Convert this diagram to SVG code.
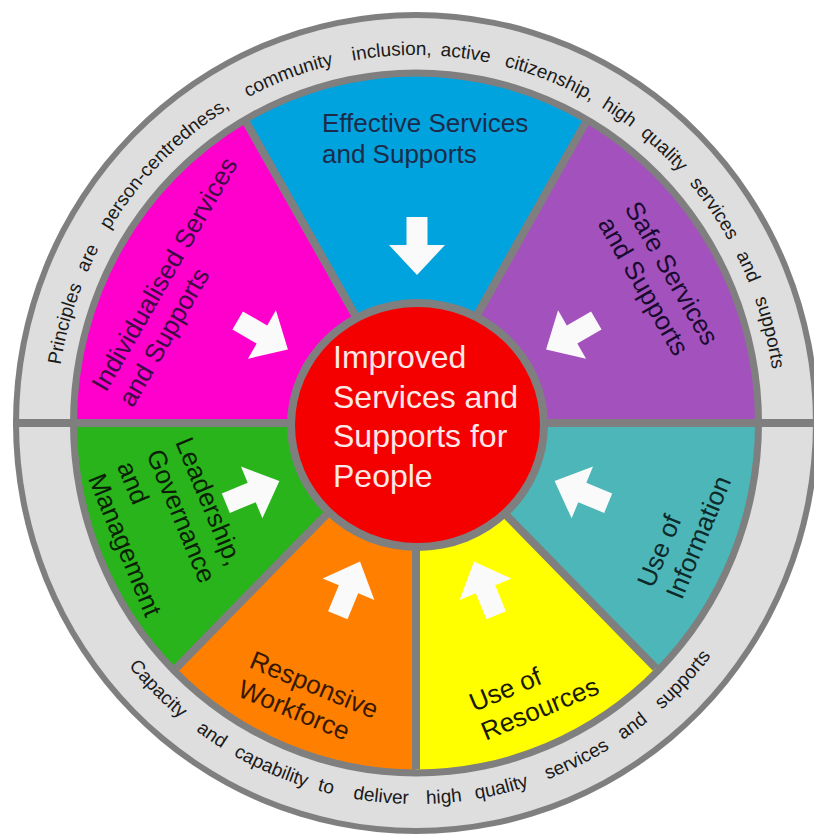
<svg xmlns="http://www.w3.org/2000/svg" xmlns:xlink="http://www.w3.org/1999/xlink" width="814" height="838" viewBox="0 0 814 838">
<style>
.lbl{font-family:"Liberation Sans",Arial,sans-serif;font-size:26px}
.ring{font-family:"Liberation Sans",Arial,sans-serif;font-size:19px;fill:#1a1a1a}
.div{stroke:#7f7f7f;stroke-width:8;fill:none}
.arr{fill:#fafafa}
</style>
<defs>
<path id="arr" d="M-10.5,-29 H10.5 V-1 H28 L0,29 L-28,-1 H-10.5 Z"/>
<path id="topArc" d="M56,423 A360,368 0 0 1 776,423"/>
<path id="botArc" d="M43,423 A373,381 0 0 0 789,423"/>
</defs>
<rect width="814" height="838" fill="#ffffff"/>
<g id="rings">
<ellipse cx="416" cy="423" rx="403" ry="411" fill="#7f7f7f"/>
<ellipse cx="416" cy="423" rx="397" ry="405" fill="#dedede"/>
<ellipse cx="416" cy="423" rx="346" ry="353.5" fill="#7f7f7f"/>
</g>
<g id="ring-text-top" class="ring">
<text><textPath href="#topArc" startOffset="8.7%" text-anchor="middle">Principles</textPath></text>
<text><textPath href="#topArc" startOffset="14.7%" text-anchor="middle">are</textPath></text>
<text><textPath href="#topArc" startOffset="25.3%" text-anchor="middle">person-centredness,</textPath></text>
<text><textPath href="#topArc" startOffset="38.7%" text-anchor="middle">community</textPath></text>
<text><textPath href="#topArc" startOffset="47.9%" text-anchor="middle">inclusion,</textPath></text>
<text><textPath href="#topArc" startOffset="54.3%" text-anchor="middle">active</textPath></text>
<text><textPath href="#topArc" startOffset="61.9%" text-anchor="middle">citizenship,</textPath></text>
<text><textPath href="#topArc" startOffset="68.6%" text-anchor="middle">high</textPath></text>
<text><textPath href="#topArc" startOffset="73.6%" text-anchor="middle">quality</textPath></text>
<text><textPath href="#topArc" startOffset="80.3%" text-anchor="middle">services</textPath></text>
<text><textPath href="#topArc" startOffset="86.1%" text-anchor="middle">and</textPath></text>
<text><textPath href="#topArc" startOffset="92.1%" text-anchor="middle">supports</textPath></text>
</g>
<g id="ring-text-bottom" class="ring">
<text><textPath href="#botArc" startOffset="25.3%" text-anchor="middle">Capacity</textPath></text>
<text><textPath href="#botArc" startOffset="31.4%" text-anchor="middle">and</textPath></text>
<text><textPath href="#botArc" startOffset="37.2%" text-anchor="middle">capability</textPath></text>
<text><textPath href="#botArc" startOffset="42.2%" text-anchor="middle">to</textPath></text>
<text><textPath href="#botArc" startOffset="47.0%" text-anchor="middle">deliver</textPath></text>
<text><textPath href="#botArc" startOffset="52.4%" text-anchor="middle">high</textPath></text>
<text><textPath href="#botArc" startOffset="57.4%" text-anchor="middle">quality</textPath></text>
<text><textPath href="#botArc" startOffset="64.3%" text-anchor="middle">services</textPath></text>
<text><textPath href="#botArc" startOffset="69.9%" text-anchor="middle">and</textPath></text>
<text><textPath href="#botArc" startOffset="75.8%" text-anchor="middle">supports</textPath></text>
</g>
<g id="individualised">
<path d="M416,423 L77,423 A339,346.5 0 0 1 246.5,122.9 Z" fill="#ff00cc"/>
<text class="lbl" fill="#3d0a45" transform="translate(106,393) rotate(-60)"><tspan x="0" y="0">Individualised Services</tspan><tspan x="0" dy="31">and Supports</tspan></text>
</g>
<g id="effective">
<path d="M416,423 L246.5,122.9 A339,346.5 0 0 1 585.5,122.9 Z" fill="#00a3dd"/>
<text class="lbl" fill="#1c2b4a"><tspan x="322" y="132">Effective Services</tspan><tspan x="322" y="163">and Supports</tspan></text>
</g>
<g id="safe">
<path d="M416,423 L585.5,122.9 A339,346.5 0 0 1 755,423 Z" fill="#a352bd"/>
<text class="lbl" fill="#1a0a30" transform="translate(624,208) rotate(60)"><tspan x="0" y="0">Safe Services</tspan><tspan x="0" dy="31">and Supports</tspan></text>
</g>
<g id="leadership">
<path d="M416,423 L77,423 A339,346.5 0 0 0 176.3,668 Z" fill="#28b41a"/>
<text class="lbl" fill="#0a1f05" transform="translate(175,442) rotate(67.5)"><tspan x="0" y="0">Leadership,</tspan><tspan x="0" dy="31.5">Governance</tspan><tspan x="0" dy="31.5">and</tspan><tspan x="0" dy="31.5">Management</tspan></text>
</g>
<g id="workforce">
<path d="M416,423 L176.3,668 A339,346.5 0 0 0 416,769.5 Z" fill="#ff8000"/>
<text class="lbl" fill="#3a1800" transform="translate(248,667) rotate(22.5)"><tspan x="0" y="0">Responsive</tspan><tspan x="0" dy="31">Workforce</tspan></text>
</g>
<g id="resources">
<path d="M416,423 L416,769.5 A339,346.5 0 0 0 655.7,668 Z" fill="#ffff00"/>
<text class="lbl" fill="#1a1a00" transform="translate(474,712) rotate(-22.5)"><tspan x="0" y="0">Use of</tspan><tspan x="0" dy="31">Resources</tspan></text>
</g>
<g id="information">
<path d="M416,423 L655.7,668 A339,346.5 0 0 0 755,423 Z" fill="#4db6b8"/>
<text class="lbl" fill="#0d2a2a" transform="translate(653,589) rotate(-67.5)"><tspan x="0" y="0">Use of</tspan><tspan x="0" dy="31">Information</tspan></text>
</g>
<g id="dividers" class="div">
<line x1="13" y1="423" x2="819" y2="423"/>
<line x1="416" y1="423" x2="246.5" y2="122.9"/>
<line x1="416" y1="423" x2="585.5" y2="122.9"/>
<line x1="416" y1="423" x2="176.3" y2="668"/>
<line x1="416" y1="423" x2="416" y2="769.5"/>
<line x1="416" y1="423" x2="655.7" y2="668"/>
</g>
<g id="improved">
<ellipse cx="417.5" cy="425" rx="130.5" ry="126" fill="#7f7f7f"/>
<ellipse cx="417.5" cy="425" rx="122.5" ry="118" fill="#f50000"/>
<text font-family="Liberation Sans, Arial, sans-serif" font-size="32" fill="#fde8e8"><tspan x="333" y="368">Improved</tspan><tspan x="333" y="408">Services and</tspan><tspan x="333" y="447">Supports for</tspan><tspan x="333" y="487">People</tspan></text>
</g>
<g id="connectors" class="arr">
<use href="#arr" transform="translate(417,246)"/>
<use href="#arr" transform="translate(262.8,335) rotate(-60)"/>
<use href="#arr" transform="translate(571.2,335) rotate(60)"/>
<use href="#arr" transform="translate(252.6,492.1) rotate(-112.5)"/>
<use href="#arr" transform="translate(348.9,588.4) rotate(-157.5)"/>
<use href="#arr" transform="translate(485.1,588.4) rotate(157.5)"/>
<use href="#arr" transform="translate(581.4,492.1) rotate(112.5)"/>
</g>
</svg>
